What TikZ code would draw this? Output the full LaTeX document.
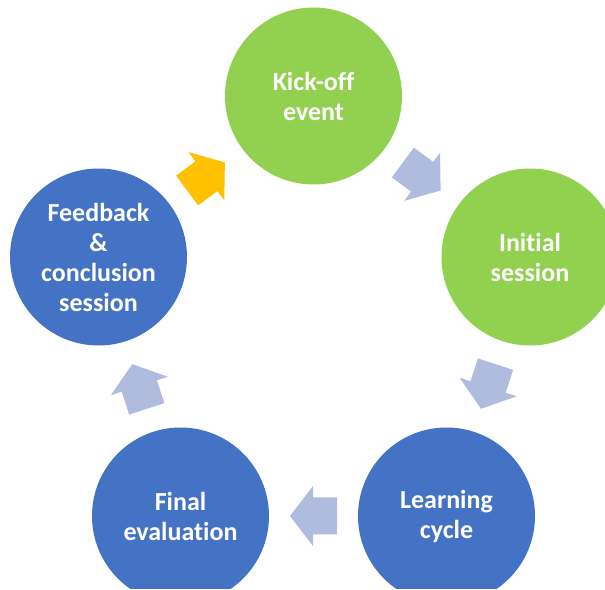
\documentclass[tikz,border=0pt]{standalone}
\usepackage{fontspec}
\setmainfont{Carlito}[Ligatures=NoCommon]
\usepackage{tikz}
\usetikzlibrary{positioning,calc}
\definecolor{stagegreen}{HTML}{92D050}
\definecolor{stageblue}{HTML}{4472C4}
\definecolor{steparrow}{RGB}{176,188,222}
\definecolor{backarrow}{HTML}{FFC000}
\tikzset{
  stage/.style  ={circle, minimum size=177pt, inner sep=0pt, align=center, text=white, font=\bfseries\fontsize{26}{30}\selectfont},
  green/.style  ={stage, fill=stagegreen},
  blue/.style   ={stage, fill=stageblue},
  cycarrow/.pic ={\fill (-23.5,-18.5) -- (0.5,-18.5) -- (0.5,-30) -- (23.5,0) -- (0.5,30) -- (0.5,18.5) -- (-23.5,18.5) -- cycle;},
}

\begin{document}
\begin{tikzpicture}[x=1pt,y=1pt]
    \clip (0,0) rectangle (605,589);
    \useasboundingbox (0,0) rectangle (605,589);
    % stages of the cycle
    \node[green] (kick)  at (313.5,493) {Kick-off\\event};
    \node[green] (init)  at (530,332)   {Initial\\session};
    \node[blue]  (learn) at (446.5,73)  {Learning\\cycle};
    \node[blue]  (final) at (180.5,73)  {Final\\evaluation};
    \node[blue]  (feed)  at (98.5,332)  {Feedback\\\&\\conclusion\\session};
    % arrows between stages
    \pic[steparrow, rotate=-36.6] at ($(kick)!0.5!(init)$)   {cycarrow};
    \pic[steparrow, rotate=-108]  at ($(init)!0.5!(learn)$)  {cycarrow};
    \pic[steparrow, rotate=180]   at ($(learn)!0.5!(final)$) {cycarrow};
    \pic[steparrow, rotate=108]   at ($(final)!0.5!(feed)$)  {cycarrow};
    \pic[backarrow, rotate=36.6]  at ($(feed)!0.5!(kick)$)   {cycarrow};
  \end{tikzpicture}
\end{document}
